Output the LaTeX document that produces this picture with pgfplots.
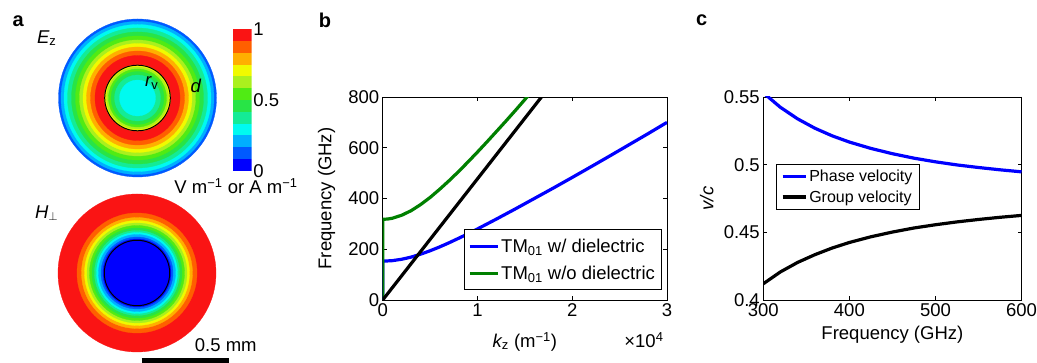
\documentclass[border=0pt]{standalone}
\usepackage{fontspec}
\setmainfont{Liberation Sans}
\usepackage{pgfplots}
\usepackage{pgfplotstable}
\pgfplotsset{compat=1.18}
\usetikzlibrary{arrows.meta}

\definecolor{c0}{RGB}{0,0,255}
\definecolor{c1}{RGB}{0,90,255}
\definecolor{c2}{RGB}{0,175,255}
\definecolor{c3}{RGB}{0,250,240}
\definecolor{c4}{RGB}{20,235,150}
\definecolor{c5}{RGB}{40,228,70}
\definecolor{c6}{RGB}{80,235,20}
\definecolor{c7}{RGB}{170,240,30}
\definecolor{c8}{RGB}{240,250,0}
\definecolor{c9}{RGB}{255,175,0}
\definecolor{c10}{RGB}{255,95,0}
\definecolor{c11}{RGB}{250,20,20}
\definecolor{mblue}{RGB}{0,0,255}
\definecolor{mgreen}{RGB}{0,128,0}

\newcommand{\bigfont}{\fontsize{18.5}{21}\selectfont}

\pgfplotstableread{
k f
0 0
0 153
1000 155
2000 160.5
3000 169
4000 180.5
5000 194
6000 209
7000 225.5
8000 243
9000 261
10000 280
12000 319
14000 359
16000 400
18000 441
20000 483
22000 525.5
24000 568.5
26000 612
28000 655.5
30000 700
}\withdiel

\pgfplotstableread{
k f
0 0
0 318
500 319
1000 322
2000 334
3000 352
4000 376
5000 404
6000 436
7000 470
8000 506
9000 544
10000 583
11000 623
12000 664
13000 705
14000 747
15000 790
15300 803
}\nodiel

\pgfplotstableread{
f vp vg
300 0.5531 0.4120
320 0.5423 0.4208
340 0.5338 0.4278
360 0.5269 0.4335
380 0.5213 0.4384
400 0.5167 0.4425
425 0.5120 0.4467
450 0.5081 0.4502
475 0.5048 0.4532
500 0.5021 0.4556
525 0.4998 0.4577
550 0.4979 0.4595
575 0.4962 0.4611
600 0.4947 0.4625
}\vel

\pgfplotsset{
  matlab/.style={
    scale only axis,
    axis line style={line width=0.9pt},
    every tick/.style={black, line width=0.9pt},
    major tick length=4pt,
    tick align=inside,
    tick label style={font=\bigfont},
    label style={font=\bigfont},
    /pgf/number format/assume math mode=true,
    legend cell align=left,
  },
  ring/.style n args={2}{only marks, mark=*, mark size=#1, mark options={fill=#2, draw=#2, line width=0.3pt}},
}

\begin{document}
\begin{tikzpicture}
\useasboundingbox (0pt,0pt) rectangle (1037pt,363pt);

% ---------------- panel a ----------------
\begin{axis}[at={(0pt,0pt)}, anchor=south west, scale only axis, width=300pt, height=363pt,
  xmin=0, xmax=300, ymin=0, ymax=363, hide axis, clip=false]
% E_z rings (outer radius, level colour)
\addplot[ring={79}{c1}] coordinates {(137.5,265)};
\addplot[ring={76.5}{c2}] coordinates {(137.5,265)};
\addplot[ring={73.5}{c3}] coordinates {(137.5,265)};
\addplot[ring={70}{c4}] coordinates {(137.5,265)};
\addplot[ring={66}{c5}] coordinates {(137.5,265)};
\addplot[ring={62}{c6}] coordinates {(137.5,265)};
\addplot[ring={58}{c7}] coordinates {(137.5,265)};
\addplot[ring={54.5}{c8}] coordinates {(137.5,265)};
\addplot[ring={51}{c9}] coordinates {(137.5,265)};
\addplot[ring={47}{c10}] coordinates {(137.5,265)};
\addplot[ring={42.5}{c11}] coordinates {(137.5,265)};
\addplot[ring={33}{c8}] coordinates {(137.5,265)};
\addplot[ring={31}{c7}] coordinates {(137.5,265)};
\addplot[ring={29}{c6}] coordinates {(137.5,265)};
\addplot[ring={26.5}{c5}] coordinates {(137.5,265)};
\addplot[ring={23}{c4}] coordinates {(137.5,265)};
\addplot[ring={18}{c3}] coordinates {(137.5,265)};
% H rings
\addplot[ring={79}{c11}] coordinates {(137,90)};
\addplot[ring={60}{c10}] coordinates {(137,90)};
\addplot[ring={55.5}{c9}] coordinates {(137,90)};
\addplot[ring={52.5}{c8}] coordinates {(137,90)};
\addplot[ring={50}{c7}] coordinates {(137,90)};
\addplot[ring={47.5}{c6}] coordinates {(137,90)};
\addplot[ring={45}{c5}] coordinates {(137,90)};
\addplot[ring={42.5}{c4}] coordinates {(137,90)};
\addplot[ring={40.5}{c3}] coordinates {(137,90)};
\addplot[ring={38.5}{c2}] coordinates {(137,90)};
\addplot[ring={36}{c1}] coordinates {(137,90)};
\addplot[ring={34}{c0}] coordinates {(137,90)};
% dielectric boundaries
\addplot[only marks, mark=o, mark size=32.8, mark options={black, line width=1pt}] coordinates {(137.5,265)};
\addplot[only marks, mark=o, mark size=32.7, mark options={black, line width=1pt}] coordinates {(137,90)};
% arrows
\addplot[black, line width=3pt, -{Triangle[length=9pt,width=9pt]}] coordinates {(137.5,265.3) (169.5,265.3)};
\addplot[black, line width=3pt, {Triangle[length=9pt,width=9pt]}-{Triangle[length=9pt,width=9pt]}] coordinates {(170.5,265.3) (216.5,265.3)};
% scale bar
\addplot[black, line width=4.5pt] coordinates {(141.7,2.3) (229.3,2.3)};
\end{axis}

% colorbar
\begin{axis}[at={(232.7pt,192.3pt)}, anchor=south west, scale only axis, width=19pt, height=141.4pt,
  xmin=0, xmax=1, ymin=0, ymax=1, axis line style={draw=none}, xtick=\empty,
  ytick={0,0.5,1}, yticklabels={0,0.5,1}, yticklabel pos=right, major tick length=0pt,
  yticklabel style={font=\bigfont, inner xsep=1.5pt, inner ysep=0pt}]
\addplot[fill=c0, draw=none] coordinates {(0,0) (1,0) (1,0.0833) (0,0.0833)};
\addplot[fill=c1, draw=none] coordinates {(0,0.0833) (1,0.0833) (1,0.1667) (0,0.1667)};
\addplot[fill=c2, draw=none] coordinates {(0,0.1667) (1,0.1667) (1,0.25) (0,0.25)};
\addplot[fill=c3, draw=none] coordinates {(0,0.25) (1,0.25) (1,0.3333) (0,0.3333)};
\addplot[fill=c4, draw=none] coordinates {(0,0.3333) (1,0.3333) (1,0.4167) (0,0.4167)};
\addplot[fill=c5, draw=none] coordinates {(0,0.4167) (1,0.4167) (1,0.5) (0,0.5)};
\addplot[fill=c6, draw=none] coordinates {(0,0.5) (1,0.5) (1,0.5833) (0,0.5833)};
\addplot[fill=c7, draw=none] coordinates {(0,0.5833) (1,0.5833) (1,0.6667) (0,0.6667)};
\addplot[fill=c8, draw=none] coordinates {(0,0.6667) (1,0.6667) (1,0.75) (0,0.75)};
\addplot[fill=c9, draw=none] coordinates {(0,0.75) (1,0.75) (1,0.8333) (0,0.8333)};
\addplot[fill=c10, draw=none] coordinates {(0,0.8333) (1,0.8333) (1,0.9167) (0,0.9167)};
\addplot[fill=c11, draw=none] coordinates {(0,0.9167) (1,0.9167) (1,1) (0,1)};
\end{axis}

\node[font=\fontsize{20}{22}\selectfont\bfseries] at (18.3pt,341.3pt) {a};
\node[font=\bigfont] at (46.7pt,324.7pt) {\itshape E\textsubscript{\upshape z}};
\node[font=\bigfont] at (46.7pt,149.7pt) {\itshape H\textsubscript{$\perp$}};
\node[font=\bigfont] at (151.7pt,279.7pt) {\itshape r\textsubscript{\upshape v}};
\node[font=\bigfont] at (195.8pt,277.2pt) {\itshape d};
\node[font=\bigfont, inner ysep=1pt] at (236pt,176.5pt) {V m\textsuperscript{−1} or A m\textsuperscript{−1}};
\node[font=\bigfont] at (225.8pt,18pt) {0.5 mm};

% ---------------- panel b ----------------
\begin{axis}[matlab, at={(382.7pt,63pt)}, anchor=south west, width=284.3pt, height=203pt,
  xmin=0, xmax=30000, ymin=0, ymax=800,
  xtick={0,10000,20000,30000}, xticklabels={0,1,2,3}, scaled x ticks=false,
  ytick={0,200,400,600,800},
  xlabel={{\itshape k}\textsubscript{z} (m\textsuperscript{−1})},
  ylabel={Frequency (GHz)},
  x label style={at={(axis description cs:0.5,-0.205)}, anchor=center},
  y label style={at={(axis description cs:-0.197,0.5)}, anchor=center},
  legend style={at={(0.980,0.049)}, anchor=south east, font=\bigfont, draw=black, line width=0.8pt,
    row sep=8pt, inner ysep=7pt, inner xsep=4pt},
  legend image code/.code={\draw[#1] (0pt,0pt) -- (28pt,0pt);}]
\addplot[mblue, line width=3.2pt] table[x=k, y=f] {\withdiel};
\addlegendentry{TM\textsubscript{01} w/ dielectric}
\addplot[mgreen, line width=3.2pt] table[x=k, y=f] {\nodiel};
\addlegendentry{TM\textsubscript{01} w/o dielectric}
\addplot[black, line width=3.2pt, forget plot] coordinates {(0,0) (16755,800)};
\end{axis}
\node[font=\fontsize{20}{22}\selectfont\bfseries] at (325pt,343pt) {b};
\node[font=\bigfont, anchor=base east] at (667pt,15pt) {×10\textsuperscript{4}};

% ---------------- panel c ----------------
\begin{axis}[matlab, at={(763.3pt,63pt)}, anchor=south west, width=258.2pt, height=203pt,
  xmin=300, xmax=600, ymin=0.4, ymax=0.55,
  xtick={300,400,500,600},
  ytick={0.4,0.45,0.5,0.55}, yticklabels={0.4,0.45,0.5,0.55},
  yticklabel style={inner ysep=0pt},
  xlabel={Frequency (GHz)},
  ylabel={\itshape v/c},
  x label style={at={(axis description cs:0.5,-0.172)}, anchor=center},
  y label style={at={(axis description cs:-0.219,0.5)}, anchor=center},
  legend style={at={(0.048,0.670)}, anchor=north west, font=\fontsize{16}{18}\selectfont, draw=black, line width=0.8pt,
    row sep=3.5pt, inner ysep=3.5pt, inner xsep=5pt},
  legend image code/.code={\draw[#1] (0pt,0pt) -- (23pt,0pt);}]
\addplot[mblue, line width=3.2pt] table[x=f, y=vp] {\vel};
\addlegendentry{Phase velocity}
\addplot[black, line width=3.2pt] table[x=f, y=vg] {\vel};
\addlegendentry{Group velocity}
\end{axis}
\node[font=\fontsize{20}{22}\selectfont\bfseries] at (701.7pt,343pt) {c};

\end{tikzpicture}
\end{document}
